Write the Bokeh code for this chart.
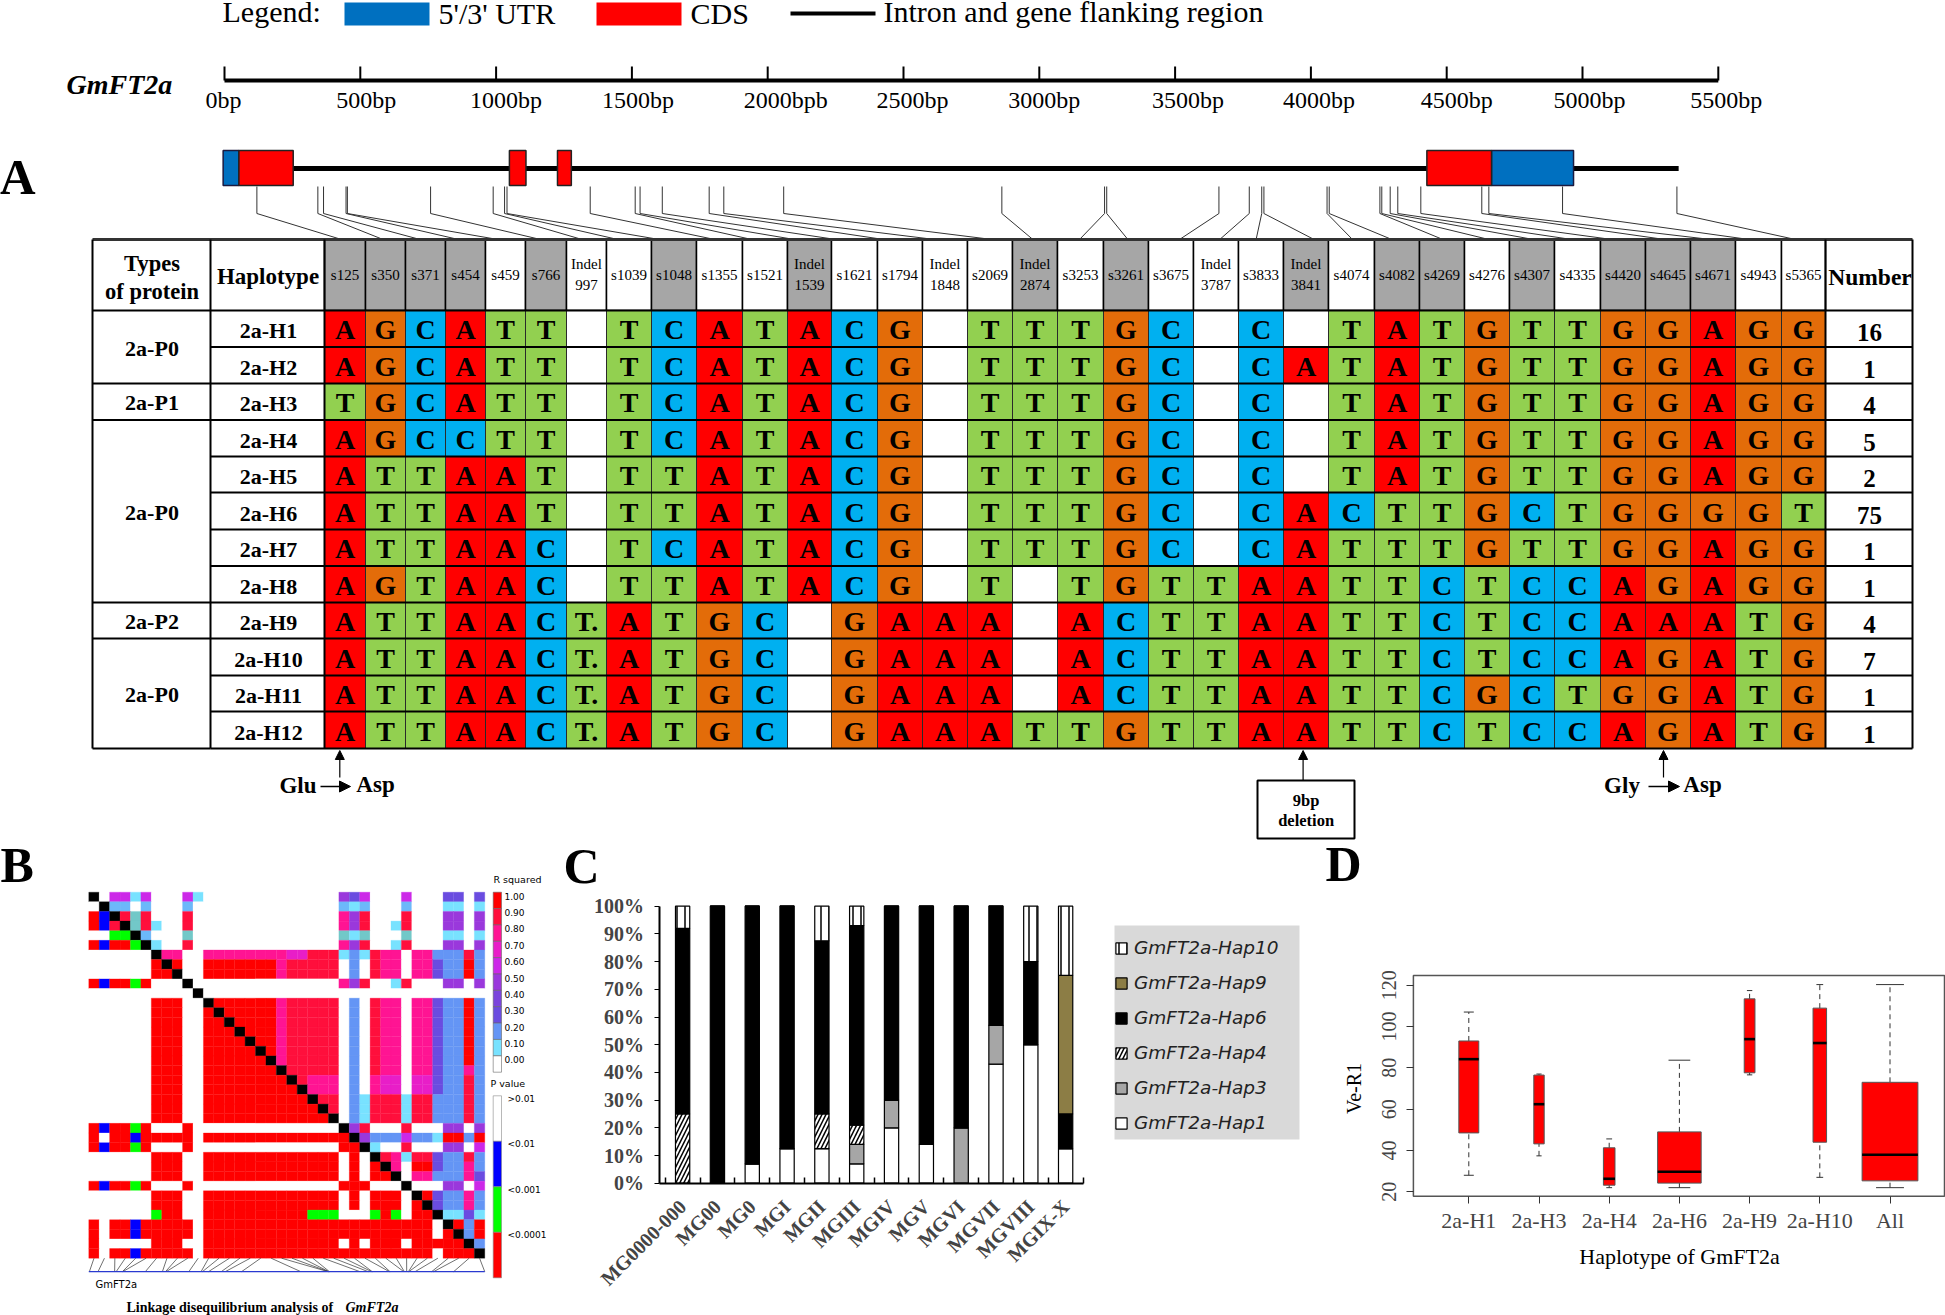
from bokeh.plotting import figure
from bokeh.embed import file_html
from bokeh.resources import INLINE
from bokeh.core.properties import value
from bokeh.models import (Range1d, ColumnDataSource, Arrow, NormalHead, Legend, LegendItem,
                          FixedTicker, PrintfTickFormatter, LinearAxis)

SERIF = "Liberation Serif"
SANS = "DejaVu Sans"

# ---------------- panel A data ----------------
site_labels = ["s125", "s350", "s371", "s454", "s459", "s766", "Indel 997", "s1039", "s1048", "s1355", "s1521",
               "Indel 1539", "s1621", "s1794", "Indel 1848", "s2069", "Indel 2874", "s3253", "s3261", "s3675",
               "Indel 3787", "s3833", "Indel 3841", "s4074", "s4082", "s4269", "s4276", "s4307", "s4335",
               "s4420", "s4645", "s4671", "s4943", "s5365"]
site_bp = [125, 350, 371, 454, 459, 766, 997, 1039, 1048, 1355, 1521, 1539, 1621, 1794, 1848, 2069, 2874, 3253,
           3261, 3675, 3787, 3833, 3841, 4074, 4082, 4269, 4276, 4307, 4335, 4420, 4645, 4671, 4943, 5365]
grey_sites = ["s125", "s350", "s371", "s454", "s766", "s1048", "Indel 1539", "Indel 2874", "s3261", "Indel 3841",
              "s4082", "s4269", "s4307", "s4420", "s4645", "s4671"]
haplotypes = ["2a-H1", "2a-H2", "2a-H3", "2a-H4", "2a-H5", "2a-H6", "2a-H7", "2a-H8", "2a-H9", "2a-H10", "2a-H11", "2a-H12"]
numbers = ["16", "1", "4", "5", "2", "75", "1", "1", "4", "7", "1", "1"]
alleles = [
    "A G C A T T - T C A T A C G - T T T G C - C - T A T G T T G G A G G",
    "A G C A T T - T C A T A C G - T T T G C - C A T A T G T T G G A G G",
    "T G C A T T - T C A T A C G - T T T G C - C - T A T G T T G G A G G",
    "A G C C T T - T C A T A C G - T T T G C - C - T A T G T T G G A G G",
    "A T T A A T - T T A T A C G - T T T G C - C - T A T G T T G G A G G",
    "A T T A A T - T T A T A C G - T T T G C - C A C T T G C T G G G G T",
    "A T T A A C - T C A T A C G - T T T G C - C A T T T G T T G G A G G",
    "A G T A A C - T T A T A C G - T - T G T T A A T T C T C C A G A G G",
    "A T T A A C T. A T G C - G A A A - A C T T A A T T C T C C A A A T G",
    "A T T A A C T. A T G C - G A A A - A C T T A A T T C T C C A G A T G",
    "A T T A A C T. A T G C - G A A A - A C T T A A T T C G C T G G A T G",
    "A T T A A C T. A T G C - G A A A T T G T T A A T T C T C C A G A T G",
]
protein_groups = [("2a-P0", 0, 2), ("2a-P1", 2, 3), ("2a-P0", 3, 8), ("2a-P2", 8, 9), ("2a-P0", 9, 12)]
ruler_bp = [0, 500, 1000, 1500, 2000, 2500, 3000, 3500, 4000, 4500, 5000, 5500]
ruler_labels = ["0bp", "500bp", "1000bp", "1500bp", "2000bpb", "2500bp", "3000bp", "3500bp", "4000bp", "4500bp", "5000bp", "5500bp"]
utr_start, utr_end = [-5, 4665], [53, 4967]
cds_start, cds_end = [53, 1049, 1226, 4427], [253, 1110, 1277, 4665]
gene_end_bp = 5354

# ---------------- panel B data ----------------
ld_rows = [
 "kwvvcvwwwv" "cwwwwwwwww" "wwwwPIvwww" "vwwwIIwI",
 "wksswswwws" "wwwwwwwwww" "wwwwscswww" "swwwccwc",
 "rBkRtRwwwR" "wwwwwwwwww" "wwwwmPRwww" "RwwwPPwP",
 "rBRktRcwwR" "wwwwwwwwww" "wwwwmPRwwc" "RwwwPPwP",
 "wwggkswwwt" "wwwwwwwwww" "wwwwtctwww" "twwwccwc",
 "rBrrgkcwwR" "wwwwwwwwww" "wwwwmPRwwc" "RwwwPPwP",
 "wwwwwwkmmw" "wmmmmmmmmp" "pRRRcbcRmm" "wmmbbbRb",
 "wwwwwwrkrw" "wrrrrrrrmR" "RRRRwbwRmm" "wmmIbbrb",
 "wwwwwwrrkw" "wrrrrrrrmR" "RRRRwbwRmm" "wmmIbbrb",
 "rBrrgrwwwk" "wwwwwwwwww" "wwwwmPRwwc" "RwwwPPwP",
 "wwwwwwwwww" "kwwwwwwwww" "wwwwwwwwww" "wwwwwwww",
 "wwwwwwrrrw" "wkrrrrrrmR" "RRRRwbwRmm" "wmmIbbrb",
 "wwwwwwrrrw" "wrkrrrrrmR" "RRRRwbwRmm" "wmmIbbrb",
 "wwwwwwrrrw" "wrrkrrrrmR" "RRRRwbwRmm" "wmmIbbrb",
 "wwwwwwrrrw" "wrrrkrrrmR" "RRRRwbwRmm" "wmmIbbrb",
 "wwwwwwrrrw" "wrrrrkrrmR" "RRRRwbwRmm" "wmmIbbrb",
 "wwwwwwrrrw" "wrrrrrkrmR" "RRRRwbwRmm" "wmmIbbrb",
 "wwwwwwrrrw" "wrrrrrrkmR" "RRRRwbwRmm" "wmmIbbrb",
 "wwwwwwrrrw" "wrrrrrrrkR" "RRRRwbwRmm" "wmmIbbmb",
 "wwwwwwrrrw" "wrrrrrrrrk" "Rmmmwbwmpp" "wppIbbRb",
 "wwwwwwrrrw" "wrrrrrrrrr" "kmmmwbwmpp" "wppIbbRb",
 "wwwwwwrrrw" "wrrrrrrrrr" "rkRRwbcRRR" "cRRbbbRb",
 "wwwwwwrrrw" "wrrrrrrrrr" "rrkRwbcRRR" "cRRbbbRb",
 "wwwwwwrrrw" "wrrrrrrrrr" "rrrkwbcRRR" "cRRbbbRb",
 "rBrrgrwwwr" "wwwwwwwwww" "wwwwkPRwww" "RwwwPPwP",
 "rwrrBrrrrr" "wrrrrrrrrr" "rrrrrkPbbb" "vbbcrrbr",
 "rBrrgrwwwr" "wwwwwwwwww" "wwwwrrkcww" "RwwwPPwv",
 "wwwwwwrrrw" "wrrrrrrrrr" "rrrrwrwkRm" "cRRIbbRb",
 "wwwwwwrrrw" "wrrrrrrrrr" "rrrrwrwrkm" "wrrIbbmb",
 "wwwwwwrrrw" "wrrrrrrrrr" "rrrrwrwrrk" "wmmbbbmI",
 "rBrrgrwwwr" "wwwwwwwwww" "wwwwrrrwww" "kwwwPPwv",
 "wwwwwwrrrw" "wrrrrrrrrr" "rrrrwrwrrr" "wkrIbbmb",
 "wwwwwwrrrw" "wrrrrrrrrr" "rrrrwrwrrr" "wrkIbbmb",
 "wwwwwwgrrw" "wrrrrrrrrr" "rgggwwwgrg" "wrrkccIc",
 "rwrrBrrrrr" "wrrrrrrrrr" "rrrrrrrrrr" "rrrwkrbr",
 "rwrrBrrrrr" "wrrrrrrrrr" "rrrrrrrrrr" "rrrwrkbr",
 "rwwwwwrrrw" "wrrrrrrrrr" "rrrrwrwrrr" "wrrrrrkb",
 "rwrrBrrrrr" "wrrrrrrrrr" "rrrrrrrrrr" "rrrwrrrk",
]
ld_marker_bp = sorted(site_bp + [8, 3245, 3250, 4330])
r2_labels = ["1.00", "0.90", "0.80", "0.70", "0.60", "0.50", "0.40", "0.30", "0.20", "0.10", "0.00"]
p_labels = [">0.01", "<0.01", "<0.001", "<0.0001"]

# ---------------- panel C data ----------------
mg_groups = ["MG0000-000", "MG00", "MG0", "MGI", "MGII", "MGIII", "MGIV", "MGV", "MGVI", "MGVII", "MGVIII", "MGIX-X"]
hap1 = [0, 0, 7, 12.5, 12.5, 7, 20, 14, 0, 43, 50, 12.5]
hap3 = [0, 0, 0, 0, 0, 7, 10, 0, 20, 14, 0, 0]
hap4 = [25, 0, 0, 0, 12.5, 7, 0, 0, 0, 0, 0, 0]
hap6 = [67, 100, 93, 87.5, 62.5, 72, 70, 86, 80, 43, 30, 12.5]
hap9 = [0, 0, 0, 0, 0, 0, 0, 0, 0, 0, 0, 50]
hap10 = [8, 0, 0, 0, 12.5, 7, 0, 0, 0, 0, 20, 25]

# ---------------- panel D data ----------------
box_names = ["2a-H1", "2a-H3", "2a-H4", "2a-H6", "2a-H9", "2a-H10", "All"]
w_low = [28, 37.4, 22, 22, 76.6, 27, 22]
q1 = [48.5, 43.2, 23.2, 24.2, 77.6, 44, 25.3]
med = [84.2, 62.4, 26.3, 29.7, 93.9, 92, 37.9]
q3 = [93, 76.5, 41.3, 49, 113.4, 108.9, 73]
w_high = [107, 77, 45.6, 83.7, 117.4, 120.3, 120.3]
box_w = [0.284, 0.148, 0.165, 0.62, 0.153, 0.193, 0.795]

# ---------------- styles ----------------
BASE = {"A": "#ff0000", "G": "#e36c09", "C": "#00b0f0", "T": "#92d050", "-": "#ffffff"}
LD = {"w": "#ffffff", "k": "#000000", "r": "#ff0000", "R": "#ff0f3c", "m": "#ff1493", "p": "#e81ec8",
      "v": "#cc28e8", "P": "#9a38dc", "I": "#6a4ce0", "b": "#6495f5", "s": "#6cb8fa", "c": "#78e2ff",
      "t": "#72c8c8", "B": "#0000ff", "g": "#00ff00"}
R2_COLORS = ["#ff0000", "#ff0f3c", "#ff1493", "#e81ec8", "#cc28e8", "#9a38dc", "#7a44dc", "#6a4ce0", "#6495f5", "#78e2ff", "#ffffff"]
P_COLORS = ["#ffffff", "#0000ff", "#00ff00", "#ff0000"]

W, H = 1945, 1315
p = figure(width=W, height=H, x_range=Range1d(0, W), y_range=Range1d(H, 0), output_backend="svg",
           toolbar_location=None, min_border=0, outline_line_color=None)
p.axis.visible = False
p.grid.visible = False


def put(xs, ys, texts, size, style="normal", font=SERIF, align="center", base="middle", color="black", angle=0, **kw):
    if not isinstance(xs, list):
        xs, ys, texts = [xs], [ys], [texts]
    if base == "alphabetic":
        ys = [y - 0.33 * size for y in ys]
    p.text(xs, ys, text=texts, text_font=value(font), text_font_size=f"{size}px", text_font_style=style,
           text_align=align, text_baseline="middle", text_color=color, angle=angle, **kw)


# ================= panel A =================
GENE_X0, GENE_K = 222.5, 0.271
RUL_X0, RUL_K = 224.0, 0.2716
p.extra_x_ranges["gene"] = Range1d(-GENE_X0 / GENE_K, (W - GENE_X0) / GENE_K)
p.extra_x_ranges["ruler"] = Range1d(-RUL_X0 / RUL_K, (W - RUL_X0) / RUL_K)

p.quad(left=[344], right=[429], top=[2], bottom=[25], fill_color="#0070c0", line_color=None)
p.quad(left=[596], right=[681], top=[2], bottom=[25], fill_color="#ff0000", line_color=None)
p.segment([790], [13], [875], [13], line_color="black", line_width=4)
put(222, 21, "Legend:", 30, align="left", base="alphabetic")
put(438, 23, "5'/3' UTR", 30, align="left", base="alphabetic")
put(690, 23, "CDS", 30, align="left", base="alphabetic")
put(883, 21, "Intron and gene flanking region", 30, align="left", base="alphabetic")

put(66, 93, "GmFT2a", 28, "bold italic", align="left", base="alphabetic")
p.segment([0], [80], [5500], [80], x_range_name="ruler", line_color="black", line_width=4)
p.segment(ruler_bp, [66] * 12, ruler_bp, [80] * 12, x_range_name="ruler", line_color="black", line_width=2)
label_nudge = [-1, 6, 10, 6, 18, 9, 5, 13, 8, 10, 7, 8]
put([a + RUL_X0 + b * RUL_K for a, b in zip(label_nudge, ruler_bp)], [107] * 12, ruler_labels, 24, base="alphabetic")

put(-1, 193, "A", 50, "bold", align="left", base="alphabetic")

p.segment([0], [168], [gene_end_bp], [168], x_range_name="ruler", line_color="black", line_width=5)
p.quad(left=utr_start, right=utr_end, top=[150] * 2, bottom=[185] * 2, x_range_name="ruler",
       fill_color="#0070c0", line_color="#1a1a40", line_width=1.5)
p.quad(left=cds_start, right=cds_end, top=[150] * 4, bottom=[185] * 4, x_range_name="ruler",
       fill_color="#ff0000", line_color="#222222", line_width=1.5)

conn_end_px = [341, 382.6, 419.6, 458, 497.4, 540, 581.6, 617.3, 658.8, 714.3, 751.3, 794, 835.5, 883.3, 934.3, 991.7,
               1032.4, 1079, 1127.4, 1179, 1219.2, 1255.6, 1313.6, 1352, 1391.4, 1442.4, 1488.4, 1533, 1571.3, 1611.5,
               1664.4, 1710.3, 1748.6, 1795]
p.segment(site_bp, [186] * 34, site_bp, [213] * 34, x_range_name="gene", line_color="#333333", line_width=1)
p.segment(site_bp, [213] * 34, [(e - GENE_X0) / GENE_K for e in conn_end_px], [239] * 34, x_range_name="gene",
          line_color="#333333", line_width=1)

col_edges = [324, 365, 405, 445, 485, 525, 566, 606, 651, 696, 742, 787, 831, 877, 922, 967, 1012, 1057, 1103, 1148,
             1193, 1238, 1283, 1328, 1374, 1419, 1464, 1509, 1554, 1600, 1645, 1690, 1735, 1781, 1825]
row_edges = [310, 346.5, 383, 419.5, 456, 492, 529, 565.5, 602, 638, 675, 711, 748]
T_LEFT, T_C1, T_RIGHT, T_TOP = 92, 210, 1912, 239
n_cols = len(site_labels)
p.quad(left=col_edges[:-1], right=col_edges[1:], top=[T_TOP] * n_cols, bottom=[310] * n_cols,
       fill_color=["#a6a6a6" if s in grey_sites else "#ffffff" for s in site_labels], line_color="black", line_width=1.5)
centers = [(a + b) / 2 for a, b in zip(col_edges[:-1], col_edges[1:])]
sx, sy, st = [], [], []
for c, s in zip(centers, site_labels):
    if s.startswith("Indel"):
        a, b = s.split()
        sx += [c, c]; sy += [263.5, 284]; st += [a, b]
    else:
        sx.append(c); sy.append(274); st.append(s)
put(sx, sy, st, 15)

cl, cr, ct, cb, cc, lx, ly, lt = [], [], [], [], [], [], [], []
for r, line in enumerate(alleles):
    for c, tok in enumerate(line.split()):
        cl.append(col_edges[c]); cr.append(col_edges[c + 1]); ct.append(row_edges[r]); cb.append(row_edges[r + 1])
        cc.append(BASE[tok[0]])
        if tok != "-":
            lx.append(centers[c]); ly.append(row_edges[r + 1] - 8); lt.append(tok)
p.quad(left=cl, right=cr, top=ct, bottom=cb, fill_color=cc, line_color="#2a2a2a", line_width=1)
put(lx, ly, lt, 28, "bold", base="alphabetic")

p.segment([T_C1] * 13, row_edges, [T_RIGHT] * 13, row_edges, line_color="black", line_width=2.2)
group_y = [row_edges[0]] + [row_edges[g[2]] for g in protein_groups]
p.segment([T_LEFT] * len(group_y), group_y, [T_C1] * len(group_y), group_y, line_color="black", line_width=2.2)
p.segment([T_LEFT], [T_TOP], [T_RIGHT], [T_TOP], line_color="#333333", line_width=3)
vx = [T_LEFT, T_C1, col_edges[0], col_edges[-1], T_RIGHT]
p.segment(vx, [T_TOP] * 5, vx, [748] * 5, line_color="black", line_width=2)

put([151.5, 151.5], [263, 291], ["Types", "of protein"], 22.5, "bold")
put(267.5, 276, "Haplotype", 23, "bold")
put(1869.5, 276, "Number", 23.5, "bold")
put([268] * 12, [(row_edges[i] + row_edges[i + 1]) / 2 + 2 for i in range(12)], haplotypes, 22, "bold")
put([151.5] * 5, [(row_edges[a] + row_edges[b]) / 2 + 1 for _, a, b in protein_groups],
    [g[0] for g in protein_groups], 22, "bold")
put([1869] * 12, [row_edges[i + 1] - 6 for i in range(12)], numbers, 25, "bold", base="alphabetic")

head = lambda s=9: NormalHead(size=s, fill_color="black", line_color="black")
for x, y0 in ((339.3, 777), (1663, 777), (1302.6, 780)):
    p.add_layout(Arrow(end=head(), x_start=x, y_start=y0, x_end=x, y_end=750, line_width=1.2))
p.add_layout(Arrow(end=head(11), x_start=320, y_start=786, x_end=350, y_end=786, line_width=1.5))
p.add_layout(Arrow(end=head(11), x_start=1648, y_start=786, x_end=1679, y_end=786, line_width=1.5))
put([297.5, 375], [793, 792], ["Glu", "Asp"], 23, "bold", base="alphabetic")
put([1621.5, 1702], [793, 792], ["Gly", "Asp"], 23, "bold", base="alphabetic")
p.quad(left=[1257], right=[1354], top=[780], bottom=[838], fill_color="white", line_color="black", line_width=2)
put([1305.6, 1305.6], [800, 820], ["9bp", "deletion"], 16.5, "bold")

# ================= panel B =================
LD_X0, LD_KX, LD_Y0, LD_KY = 88.3, 10.42, 891.7, 9.632
p.extra_x_ranges["ld"] = Range1d(-LD_X0 / LD_KX, (W - LD_X0) / LD_KX)
p.extra_y_ranges["ld"] = Range1d((H - LD_Y0) / LD_KY, -LD_Y0 / LD_KY)
put(0, 881, "B", 50, "bold", align="left", base="alphabetic")
mx, my, mc = [], [], []
for r, line in enumerate(ld_rows):
    for c, ch in enumerate(line):
        mx.append(c + .5); my.append(r + .5); mc.append(LD[ch])
p.rect(mx, my, width=1, height=1, x_range_name="ld", y_range_name="ld", fill_color=mc, line_color=mc, line_width=0.3)
n_m = len(ld_marker_bp)
p.segment([i + .5 for i in range(n_m)], [38] * n_m, [b / 5365 * 38 for b in ld_marker_bp], [39.4] * n_m,
          x_range_name="ld", y_range_name="ld", line_color="#333333", line_width=0.7)
p.segment([0], [39.4], [38], [39.4], x_range_name="ld", y_range_name="ld", line_color="#2a3ad0", line_width=1.3)
put(95, 1287, "GmFT2a", 10, font=SANS, align="left", base="alphabetic")
put(126, 1312, "Linkage disequilibrium analysis of", 14, "bold", align="left", base="alphabetic")
put(345, 1312, "GmFT2a", 14, "bold italic", align="left", base="alphabetic")
seg = (1071.7 - 891.7) / 11
p.quad(left=[492.7] * 11, right=[501] * 11, top=[891.7 + i * seg for i in range(11)],
       bottom=[891.7 + (i + 1) * seg for i in range(11)], fill_color=R2_COLORS, line_color="#666666", line_width=0.6)
put(493, 879, "R squared", 9.5, font=SANS, align="left")
put([504] * 11, [895.7 + i * 16.36 for i in range(11)], r2_labels, 9, font=SANS, align="left")
seg2 = (1277.3 - 1095.3) / 4
p.quad(left=[492.7] * 4, right=[501] * 4, top=[1095.3 + i * seg2 for i in range(4)],
       bottom=[1095.3 + (i + 1) * seg2 for i in range(4)], fill_color=P_COLORS, line_color="#888888", line_width=0.6)
put(490, 1083, "P value", 9.5, font=SANS, align="left")
put([507] * 4, [1098, 1143, 1189, 1234], p_labels, 9, font=SANS, align="left")

# ================= panel C =================
CX0, CKX, CY0, CKY = 664.7, 34.82, 1182.7, 2.77
p.extra_x_ranges["c"] = Range1d(-CX0 / CKX, (W - CX0) / CKX)
p.extra_y_ranges["c"] = Range1d((CY0 - H) / CKY, CY0 / CKY)
put(563, 882, "C", 50, "bold", align="left", base="alphabetic")
p.quad(left=[1114], right=[1299], top=[925], bottom=[1139], fill_color="#d9d9d9", line_color=None)
src = ColumnDataSource(dict(x=[i + .5 for i in range(12)], hap1=hap1, hap3=hap3, hap4=hap4, hap6=hap6, hap9=hap9, hap10=hap10))
stackers = ["hap1", "hap3", "hap4", "hap6", "hap9", "hap10"]
rs = p.vbar_stack(stackers, x="x", width=0.41, source=src, x_range_name="c", y_range_name="c",
                  line_color="black", line_width=1.2,
                  fill_color=["#ffffff", "#a6a6a6", "#ffffff", "#000000", "#8c7d45", "#ffffff"],
                  hatch_pattern=[" ", " ", "right_diagonal_line", " ", " ", "vertical_line"],
                  hatch_color="black", hatch_scale=8, hatch_weight=1.5)
names = ["GmFT2a-Hap1", "GmFT2a-Hap3", "GmFT2a-Hap4", "GmFT2a-Hap6", "GmFT2a-Hap9", "GmFT2a-Hap10"]
items = [LegendItem(label=n, renderers=[r]) for n, r in zip(names, rs)][::-1]
leg = Legend(items=items, location=(1114, H - 1133), background_fill_alpha=0,
             border_line_color=None, label_text_font=SANS, label_text_font_style="italic",
             label_text_font_size="18.5px", label_text_color="#222222", glyph_width=14, glyph_height=14,
             label_height=20, spacing=14, padding=11, margin=0, label_standoff=6)
p.add_layout(leg, "center")

cy = LinearAxis(y_range_name="c", fixed_location=659.4, bounds=(0, 100),
                ticker=FixedTicker(ticks=list(range(0, 101, 10))), formatter=PrintfTickFormatter(format="%d%%"),
                major_tick_in=0, major_tick_out=5, minor_tick_line_color=None, major_label_text_font=SERIF,
                major_label_text_font_style="bold", major_label_text_font_size="20px", major_label_standoff=11,
                axis_line_width=2)
p.add_layout(cy, "left")
cx = LinearAxis(x_range_name="c", fixed_location=CY0, bounds=(-0.153, 12),
                ticker=FixedTicker(ticks=[i + .5 for i in range(12)], minor_ticks=list(range(13))),
                major_label_overrides={i + .5: g for i, g in enumerate(mg_groups)}, major_label_orientation=0.785,
                major_tick_line_color=None, minor_tick_in=6, minor_tick_out=0, minor_tick_line_width=1.5,
                major_label_text_font=SERIF, major_label_text_font_style="bold", major_label_text_font_size="20px",
                major_label_standoff=14, axis_line_width=2)
p.add_layout(cx, "below")

# ================= panel D =================
DX0, DKX, DY0, DKY = 1468.3, 70.2, 1191.3, 2.066
p.extra_x_ranges["d"] = Range1d(1 - DX0 / DKX, 1 + (W - DX0) / DKX)
p.extra_y_ranges["d"] = Range1d(20 - (H - DY0) / DKY, 20 + DY0 / DKY)
put(1325, 880, "D", 50, "bold", align="left", base="alphabetic")
p.quad(left=[1412.9], right=[1944], top=[975], bottom=[1195.7], fill_color=None, line_color="#555555", line_width=1.5)
xs = list(range(1, 8))
kw = dict(x_range_name="d", y_range_name="d")
p.segment(xs, w_low, xs, q1, line_color="#333333", line_width=1, line_dash="5 4", **kw)
p.segment(xs, q3, xs, w_high, line_color="#333333", line_width=1, line_dash="5 4", **kw)
for ends in (w_low, w_high):
    p.segment([x - w / 4 for x, w in zip(xs, box_w)], ends, [x + w / 4 for x, w in zip(xs, box_w)], ends,
              line_color="#333333", line_width=1, **kw)
p.vbar(x=xs, width=box_w, bottom=q1, top=q3, fill_color="#ff0000", line_color="#555555", line_width=1, **kw)
p.segment([x - w / 2 for x, w in zip(xs, box_w)], med, [x + w / 2 for x, w in zip(xs, box_w)], med,
          line_color="black", line_width=2.6, **kw)
dx = LinearAxis(x_range_name="d", fixed_location=1195.7, bounds=(1, 7), ticker=FixedTicker(ticks=xs),
                major_label_overrides={x: n for x, n in zip(xs, box_names)}, axis_label="Haplotype of GmFT2a",
                axis_line_color=None, minor_tick_line_color=None, major_tick_in=0, major_tick_out=7,
                major_tick_line_color="#333333", major_label_text_font=SERIF, major_label_text_font_size="22px",
                major_label_standoff=5, axis_label_text_font=SERIF, axis_label_text_font_style="normal",
                axis_label_text_font_size="22px", axis_label_text_color="black", axis_label_standoff=7)
p.add_layout(dx, "below")
dy = LinearAxis(y_range_name="d", fixed_location=1412.9, bounds=(20, 120),
                ticker=FixedTicker(ticks=[20, 40, 60, 80, 100, 120]), axis_label="Ve-R1",
                axis_line_color=None, minor_tick_line_color=None, major_tick_in=0, major_tick_out=7,
                major_tick_line_color="#333333", major_label_orientation="vertical", major_label_text_font=SERIF,
                major_label_text_font_size="20px", major_label_standoff=10, axis_label_text_font=SERIF,
                axis_label_text_font_style="normal", axis_label_text_font_size="20px",
                axis_label_text_color="black", axis_label_standoff=15)
p.add_layout(dy, "left")

open("out.html", "w").write(file_html(p, INLINE))
